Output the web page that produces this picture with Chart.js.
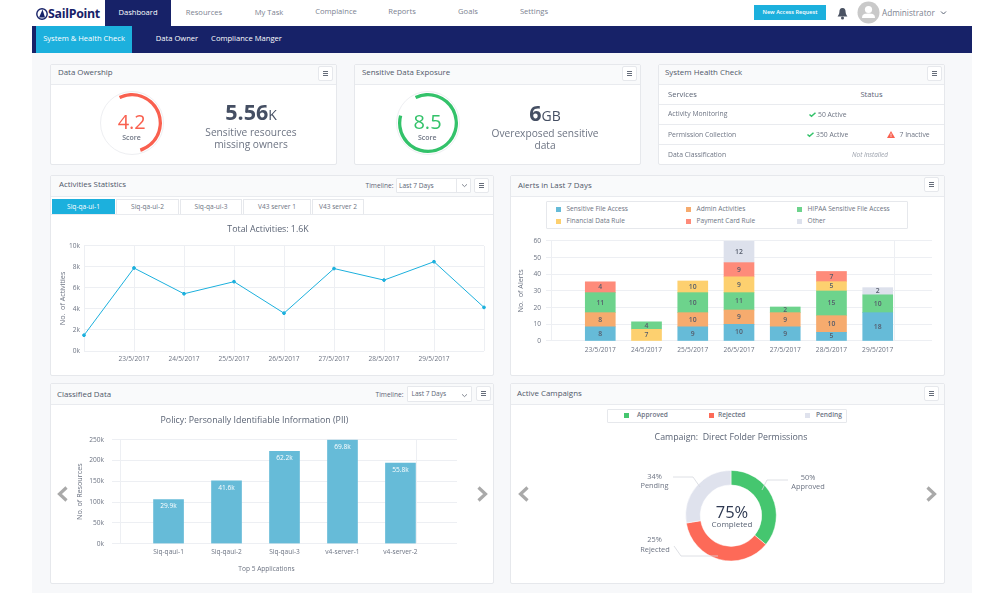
<!DOCTYPE html>
<html lang="en">
<head>
<meta charset="UTF-8">
<title>SailPoint Dashboard</title>
<script src="https://cdn.jsdelivr.net/npm/chart.js"></script>
<style>
  html, body { margin: 0; padding: 0; background: #fff; }
  body { width: 1000px; height: 593px; overflow: hidden; position: relative; font-family: "Open Sans", sans-serif; color: #5b6475; }
  .bg { position: absolute; left: 32px; top: 27px; width: 940px; height: 566px; background: #f7f8fa; }
  .sub { position: absolute; left: 32px; top: 26px; width: 940px; height: 27px; background: #172268; }
  .card { position: absolute; background: #fff; border: 1px solid #e6e8ec; border-radius: 2px; box-sizing: border-box; }
  .head { position: absolute; background: #f9fafb; border-bottom: 1px solid #e9ebef; left: 0; right: 0; top: 0; }
  .c, .l, .r { position: absolute; white-space: nowrap; transform: translateY(-50%); line-height: 1; }
  .c { transform: translate(-50%, -50%); text-align: center; }
  .r { transform: translate(-100%, -50%); }
  .title { font-size: 7.9px; color: #4f5869; }
  .nav { font-size: 7.6px; color: #7b8290; }
  .btn { position: absolute; background: #fff; border: 1px solid #e6e8ec; border-radius: 2px; box-sizing: border-box; }
  .btn::after { content: ""; position: absolute; left: 4px; right: 4px; top: 4px; height: 5px; border-top: 1px solid #666d7a; border-bottom: 1px solid #666d7a; box-sizing: border-box; }
  .btn::before { content: ""; position: absolute; left: 4px; right: 4px; top: 6px; height: 1px; background: #666d7a; }
  .box { position: absolute; background: #fff; border: 1px solid #e6e8ec; box-sizing: border-box; border-radius: 1px; }
  .tab { position: absolute; top: 199px; height: 15px; box-sizing: border-box; background: #fff; border: 1px solid #e6e8ec; border-bottom: 0; font-size: 6.6px; color: #6d7483; text-align: center; line-height: 14px; }
  .line { position: absolute; height: 1px; background: #e9ebef; }
  canvas { position: absolute; }
  svg { position: absolute; overflow: visible; }
  .sm { font-size: 6.8px; color: #6d7483; }
  .lg { font-size: 6.6px; color: #6d7483; }
  .sw { position: absolute; width: 5px; height: 5px; }
</style>
</head>
<body>
<div class="bg"></div>

<!-- top bar -->
<svg style="left:36px;top:8px" width="12" height="12" viewBox="0 0 12 12"><circle cx="6" cy="6" r="5.2" fill="none" stroke="#172268" stroke-width="1.4"/><path d="M6.5 1.5 L3 9.5 L9 9.5 Z" fill="#172268"/></svg>
<div class="l" style="left:48px;top:14px;font-size:12.4px;font-weight:700;color:#172268;letter-spacing:-.3px">SailPoint</div>
<div style="position:absolute;left:105px;top:0;width:66px;height:26px;background:#172268"></div>
<div class="c nav" style="left:138px;top:13px;color:#fff">Dashboard</div>
<div class="c nav" style="left:204px;top:13px">Resources</div>
<div class="c nav" style="left:269px;top:13px">My Task</div>
<div class="c nav" style="left:336px;top:11.5px">Complaince</div>
<div class="c nav" style="left:402px;top:11.5px">Reports</div>
<div class="c nav" style="left:468px;top:11.5px">Goals</div>
<div class="c nav" style="left:534px;top:11.5px">Settings</div>
<div style="position:absolute;left:754px;top:5px;width:72px;height:15px;background:#1cb0dd"></div>
<div class="c" style="left:790px;top:12.5px;font-size:5.6px;font-weight:600;color:#fff">New Access Request</div>
<svg style="left:837px;top:7px" width="11" height="13" viewBox="0 0 11 13"><path d="M5.5 1 C3 1 2.4 3 2.4 5 C2.4 7.5 1 8.5 .6 9.6 L10.4 9.6 C10 8.5 8.6 7.5 8.6 5 C8.6 3 8 1 5.5 1 Z" fill="#4a5262"/><circle cx="5.5" cy="11" r="1.5" fill="#4a5262"/></svg>
<svg style="left:857px;top:1px" width="23" height="23" viewBox="0 0 23 23"><circle cx="11.5" cy="11.5" r="11" fill="#c9c9c9"/><circle cx="11.5" cy="8.5" r="3.6" fill="#fff"/><path d="M5 17 C5 13 8 12.5 11.5 12.5 C15 12.5 18 13 18 17 Z" fill="#fff"/></svg>
<div class="l" style="left:882px;top:13px;font-size:8.2px;color:#7b8290">Administrator</div>
<svg style="left:941px;top:11px" width="5" height="4"><polyline points="0,.5 2.5,3 5,.5" fill="none" stroke="#5b6475" stroke-width="1"/></svg>

<!-- sub navigation -->
<div class="sub"></div>
<div style="position:absolute;left:36px;top:26px;width:96px;height:27px;background:#1cb0dd"></div>
<div class="c nav" style="left:84px;top:39px;color:#fff">System &amp; Health Check</div>
<div class="c nav" style="left:177px;top:39px;color:#fff">Data Owner</div>
<div class="c nav" style="left:246.5px;top:39px;color:#fff">Compliance Manger</div>

<!-- cards -->
<div class="card" style="left:50px;top:64px;width:287px;height:101px"><div class="head" style="height:19px"></div></div>
<div class="card" style="left:354px;top:64px;width:287px;height:101px"><div class="head" style="height:19px"></div></div>
<div class="card" style="left:658px;top:64px;width:287px;height:101px"><div class="head" style="height:19px"></div></div>
<div class="card" style="left:50px;top:175px;width:444px;height:201px"><div class="head" style="height:20px"></div></div>
<div class="card" style="left:510px;top:175px;width:435px;height:201px"><div class="head" style="height:20px"></div></div>
<div class="card" style="left:50px;top:383px;width:444px;height:201px"><div class="head" style="height:20px"></div></div>
<div class="card" style="left:510px;top:383px;width:435px;height:201px"><div class="head" style="height:20px"></div></div>

<div class="l title" style="left:58px;top:73px">Data Owership</div>
<div class="l title" style="left:362px;top:73px">Sensitive Data Exposure</div>
<div class="l title" style="left:665px;top:73px">System Health Check</div>
<div class="l title" style="left:59px;top:185px">Activities Statistics</div>
<div class="l title" style="left:518px;top:186px">Alerts in Last 7 Days</div>
<div class="l title" style="left:57px;top:395px">Classified Data</div>
<div class="l title" style="left:517px;top:394px">Active Campaigns</div>

<div class="btn" style="left:318px;top:66px;width:15px;height:15px"></div>
<div class="btn" style="left:622px;top:66px;width:15px;height:15px"></div>
<div class="btn" style="left:927px;top:66px;width:15px;height:15px"></div>
<div class="btn" style="left:474px;top:178px;width:15px;height:15px"></div>
<div class="btn" style="left:924px;top:177px;width:15px;height:15px"></div>
<div class="btn" style="left:476px;top:386px;width:15px;height:15px"></div>
<div class="btn" style="left:924px;top:386px;width:15px;height:15px"></div>

<!-- score cards -->
<div style="position:absolute;left:99.5px;top:90.5px;width:64px;height:64px;border-radius:50%;background:#fff;border:1.5px solid #eeeff2;box-sizing:border-box"></div>
<div style="position:absolute;left:395.5px;top:90.5px;width:64px;height:64px;border-radius:50%;background:#fff;border:1.5px solid #eeeff2;box-sizing:border-box"></div>
<canvas id="gaugeOwner" width="64" height="64" style="left:99.5px;top:90.5px"></canvas>
<canvas id="gaugeExposure" width="64" height="64" style="left:395.5px;top:90.5px"></canvas>
<div class="c" style="left:131.7px;top:121.5px;font-size:20px;color:#f9604f">4.2</div>
<div class="c" style="left:131.5px;top:137px;font-size:7px;font-weight:600;color:#6d7483">Score</div>
<div class="c" style="left:427.5px;top:121.5px;font-size:20px;color:#33c26a">8.5</div>
<div class="c" style="left:427.3px;top:136.5px;font-size:7px;font-weight:600;color:#6d7483">Score</div>
<div class="c" style="left:251px;top:112px;color:#454f63"><span style="font-size:21.5px;font-weight:700">5.56</span><span style="font-size:14px">K</span></div>
<div class="c" style="left:251px;top:132px;font-size:10.2px;color:#6d7483">Sensitive resources</div>
<div class="c" style="left:251px;top:143.5px;font-size:10.2px;color:#6d7483">missing owners</div>
<div class="c" style="left:545px;top:113px;color:#454f63"><span style="font-size:21.5px;font-weight:700">6</span><span style="font-size:14px">GB</span></div>
<div class="c" style="left:545px;top:132.5px;font-size:10.2px;color:#6d7483">Overexposed sensitive</div>
<div class="c" style="left:545px;top:144.5px;font-size:10.2px;color:#6d7483">data</div>

<!-- system health table -->
<div class="l" style="left:668px;top:95px;font-size:7.6px;color:#5b6475">Services</div>
<div class="c" style="left:871.5px;top:95px;font-size:7.6px;color:#5b6475">Status</div>
<div class="line" style="left:659px;top:104px;width:285px"></div>
<div class="line" style="left:659px;top:124px;width:285px"></div>
<div class="line" style="left:659px;top:144px;width:285px"></div>
<div class="l sm" style="left:668px;top:114px">Activity Monitoring</div>
<div class="l sm" style="left:668px;top:134.5px">Permission Collection</div>
<div class="l sm" style="left:668px;top:154.5px">Data Classification</div>
<svg style="left:809px;top:112px" width="7" height="5"><polyline points=".5,2.5 2.5,4.3 6.5,.7" fill="none" stroke="#33c26a" stroke-width="1.5"/></svg>
<div class="l sm" style="left:818px;top:115px">50 Active</div>
<svg style="left:806.5px;top:132px" width="7" height="5"><polyline points=".5,2.5 2.5,4.3 6.5,.7" fill="none" stroke="#33c26a" stroke-width="1.5"/></svg>
<div class="l sm" style="left:816px;top:135px">350 Active</div>
<svg style="left:887px;top:130.5px" width="8" height="7"><path d="M4 0 L8 7 L0 7 Z" fill="#f9604f"/><rect x="3.6" y="2.5" width=".8" height="2.2" fill="#fff"/><rect x="3.6" y="5.2" width=".8" height=".8" fill="#fff"/></svg>
<div class="l sm" style="left:899.5px;top:135px">7 Inactive</div>
<div class="c" style="left:870px;top:155px;font-size:6.4px;font-style:italic;color:#9aa0ab">Not Installed</div>

<!-- activities controls -->
<div class="r" style="left:393.5px;top:185.5px;font-size:6.6px;color:#5b6475">Timeline:</div>
<div class="box" style="left:396px;top:178px;width:75px;height:15px"></div>
<div style="position:absolute;left:456px;top:178px;width:1px;height:15px;background:#e6e8ec"></div>
<div class="l" style="left:399px;top:185.5px;font-size:6.6px;color:#5b6475">Last 7 Days</div>
<svg style="left:461.5px;top:184px" width="5" height="3"><polyline points="0,.3 2.5,2.6 5,.3" fill="none" stroke="#666d7a" stroke-width=".8"/></svg>
<div class="line" style="left:51px;top:214px;width:442px"></div>
<div id="tabs"></div>

<!-- classified controls -->
<div class="r" style="left:403.5px;top:394.5px;font-size:6.6px;color:#5b6475">Timeline:</div>
<div class="box" style="left:407px;top:386px;width:65px;height:16px"></div>
<div class="l" style="left:411.5px;top:394px;font-size:6.6px;color:#5b6475">Last 7 Days</div>
<svg style="left:461.5px;top:393.5px" width="5" height="3"><polyline points="0,.3 2.5,2.6 5,.3" fill="none" stroke="#666d7a" stroke-width=".8"/></svg>

<!-- charts -->
<canvas id="activityChart" width="440" height="156" style="left:52px;top:216px"></canvas>
<canvas id="alertsChart" width="431" height="140" style="left:512px;top:232px"></canvas>
<canvas id="classifiedChart" width="440" height="174" style="left:52px;top:408px"></canvas>
<canvas id="campaignChart" width="431" height="160" style="left:512px;top:425px"></canvas>

<!-- alerts legend -->
<div class="box" style="left:546px;top:201px;width:362px;height:28px"></div>
<div id="alertsLegend"></div>

<!-- classified extras -->
<div class="c lg" style="left:266.5px;top:568.5px">Top 5 Applications</div>
<svg style="left:57px;top:486px" width="11" height="16"><polyline points="9.5,1.5 2.5,8 9.5,14.5" fill="none" stroke="#a9a9a9" stroke-width="3.2"/></svg>
<svg style="left:477px;top:486px" width="11" height="16"><polyline points="1.5,1.5 8.5,8 1.5,14.5" fill="none" stroke="#a9a9a9" stroke-width="3.2"/></svg>

<!-- campaign extras -->
<div class="box" style="left:607px;top:408.5px;width:240px;height:14px"></div>
<div id="campaignLegend"></div>
<svg style="left:518px;top:486px" width="11" height="16"><polyline points="9.5,1.5 2.5,8 9.5,14.5" fill="none" stroke="#a9a9a9" stroke-width="3.2"/></svg>
<svg style="left:926px;top:486px" width="11" height="16"><polyline points="1.5,1.5 8.5,8 1.5,14.5" fill="none" stroke="#a9a9a9" stroke-width="3.2"/></svg>
<svg style="left:0;top:0" width="1000" height="593">
  <polyline points="762,490 767,480 788,480" fill="none" stroke="#d5d8de" stroke-width=".8"/>
  <polyline points="700,487 693,477 673,477" fill="none" stroke="#d5d8de" stroke-width=".8"/>
  <polyline points="718,556 681,556 674,546" fill="none" stroke="#d5d8de" stroke-width=".8"/>
</svg>
<div class="c lg" style="left:808px;top:477.5px;font-size:7.4px">50%</div>
<div class="c lg" style="left:808px;top:487px;font-size:7.4px">Approved</div>
<div class="c lg" style="left:654.5px;top:476.5px;font-size:7.4px">34%</div>
<div class="c lg" style="left:654.5px;top:485.5px;font-size:7.4px">Pending</div>
<div class="c lg" style="left:654.5px;top:540px;font-size:7.4px">25%</div>
<div class="c lg" style="left:655px;top:549.5px;font-size:7.4px">Rejected</div>
<div class="c" style="left:732px;top:512px;font-size:16.5px;color:#2f3a52">75%</div>
<div class="c" style="left:732px;top:524px;font-size:8px;color:#5b6475">Completed</div>

<script>
  // Onglets
  const tabNames = ['Siq-qa-ui-1', 'Siq-qa-ui-2', 'Siq-qa-ui-3', 'V43 server 1', 'V43 server 2'];

  // Activities Statistics
  const activityLabels = ['', '23/5/2017', '24/5/2017', '25/5/2017', '26/5/2017', '27/5/2017', '28/5/2017', '29/5/2017', ''];
  const activityValues = [1500, 7900, 5450, 6600, 3600, 7850, 6750, 8500, 4150];

  const alertDays = ['23/5/2017', '24/5/2017', '25/5/2017', '26/5/2017', '27/5/2017', '28/5/2017', '29/5/2017'];
  const alertSeries = ['Sensitive File Access', 'Admin Activities', 'HIPAA Sensitive File Access', 'Financial Data Rule', 'Payment Card Rule', 'Other'];
  const alertColors = ['#66bbd8', '#f6ab6e', '#6dd38c', '#fdd06f', '#fe8b7a', '#dde1ec'];
  const sensitiveHeights = [8.5, null, 8.5, 10, 8.5, 5.2, 17];
  const adminHeights = [8.5, null, 8.5, 8.6, 8.5, 10, null];
  const hipaaHeights = [12, 4.5, 12, 10.4, 3.4, 14.8, 10.7];
  const financialHeights = [null, null, 7, 9.5, null, 5.6, null];
  const paymentHeights = [6.5, null, null, 8.5, null, 6.1, null];
  const otherHeights = [null, null, null, 13, null, null, 4.3];
  const sensitivePrinted = [8, null, 9, 10, 9, 5, 18];
  const adminPrinted = [8, null, 10, 9, 9, 10, null];
  const hipaaPrinted = [11, 4, 10, 11, 2, 15, 10];
  const financialPrinted = [null, null, 10, 9, null, 5, null];
  const paymentPrinted = [4, null, null, 9, null, 7, null];
  const otherPrinted = [null, null, null, 12, null, null, 2];
  // Le 24/5 le jaune est sous le vert
  const financialLowHeights = [null, 7, null, null, null, null, null];
  const financialLowPrinted = [null, 7, null, null, null, null, null];

  // Classified Data
  const classifiedApps = ['Siq-qaui-1', 'Siq-qaui-2', 'Siq-qaui-3', 'v4-server-1', 'v4-server-2'];
  const classifiedValues = [106000, 151000, 222000, 250000, 194000];
  const classifiedPrinted = ['29.9k', '41.6k', '62.2k', '69.8k', '55.8k'];

  // Active Campaigns
  const campaignLabels = ['Approved', 'Rejected', 'Pending'];
  const campaignColors = ['#45c66f', '#fd6a58', '#dfe2ed'];
  const campaignValues = [36, 36.4, 27.6];

  // Jauges
  const ownerGauge = [52.5, 47.5];
  const exposureGauge = [86.4, 13.6];

  const gridColor = '#edeff3';
  const textColor = '#6d7483';
  const tickFont = { size: 6.6 };
  const axisTitleFont = { size: 7.2 };
  const chartTitleFont = { size: 8.8, weight: 'normal' };

  Chart.defaults.animation = false;
  Chart.defaults.font.family = '"Open Sans", sans-serif';
  Chart.defaults.color = textColor;
  Chart.defaults.plugins.legend.display = false;
  Chart.defaults.plugins.tooltip.enabled = false;

  // Onglets et legendes HTML
  const tabBoxes = [[52, 63], [116, 63], [180, 62], [243, 68], [312, 52]];
  document.getElementById('tabs').innerHTML = tabNames.map((name, i) => {
    const active = i === 0 ? 'background:#1cb0dd;color:#fff;border-color:#1cb0dd;' : '';
    return `<div class="tab" style="left:${tabBoxes[i][0]}px;width:${tabBoxes[i][1]}px;${active}">${name}</div>`;
  }).join('');

  const legendSpots = [[556, 209], [686, 209], [797, 209], [556, 221], [686, 221], [797, 221]];
  document.getElementById('alertsLegend').innerHTML = alertSeries.map((name, i) => {
    const [x, y] = legendSpots[i];
    return `<div class="sw" style="left:${x}px;top:${y - 2.5}px;background:${alertColors[i]}"></div>` +
      `<div class="l lg" style="left:${x + 10.5}px;top:${y}px">${name}</div>`;
  }).join('');

  const campaignSpots = [[624, 637], [709, 718], [805, 816]];
  document.getElementById('campaignLegend').innerHTML = campaignLabels.map((name, i) => {
    return `<div class="sw" style="left:${campaignSpots[i][0]}px;top:413px;background:${campaignColors[i]}"></div>` +
      `<div class="l lg" style="left:${campaignSpots[i][1]}px;top:415px;font-weight:600">${name}</div>`;
  }).join('');

  // Chiffres sur les barres
  const barLabels = {
    id: 'barLabels',
    afterDatasetsDraw(chart, args, opts) {
      const ctx = chart.ctx;
      ctx.save();
      ctx.textAlign = 'center';
      ctx.textBaseline = 'middle';
      ctx.font = `${opts.weight} ${opts.size}px "Open Sans", sans-serif`;
      ctx.fillStyle = opts.color;
      chart.data.datasets.forEach((ds, d) => {
        chart.getDatasetMeta(d).data.forEach((bar, i) => {
          if (ds.printed[i] === null) return;
          const y = opts.inside ? bar.y + opts.inside : (bar.y + bar.base) / 2;
          ctx.fillText(ds.printed[i], bar.x, y);
        });
      });
      ctx.restore();
    }
  };

  // Axe x numerique : permet une marge de chaque cote des barres
  function barAxis(labels, margin, padding) {
    const min = -margin;
    const max = labels.length - 1 + margin;
    return {
      type: 'linear', min, max,
      afterBuildTicks: scale => {
        scale.ticks = [min, ...labels.map((_, i) => i), max].map(value => ({ value }));
      },
      afterFit: scale => { scale.height = padding.height; },
      grid: {
        drawTicks: false,
        color: c => (c.tick && (c.tick.value === min || c.tick.value === max) ? gridColor : 'transparent')
      },
      border: { display: false },
      ticks: {
        autoSkip: false, maxRotation: 0, padding: padding.tick, font: tickFont,
        callback: v => (labels[v] === undefined ? '' : labels[v])
      }
    };
  }

  function valueAxis(opts) {
    return {
      min: 0, max: opts.max,
      afterFit: scale => { scale.width = opts.width; },
      grid: { color: gridColor, drawTicks: false },
      border: { display: false },
      title: { display: true, text: opts.title, font: axisTitleFont, padding: { top: opts.titlePad, bottom: 0 } },
      ticks: { stepSize: opts.step, padding: opts.tickPad, font: tickFont, callback: opts.format }
    };
  }

  // Activities Statistics
  new Chart(document.getElementById('activityChart'), {
    type: 'line',
    data: {
      labels: activityLabels,
      datasets: [{
        data: activityValues,
        borderColor: '#1cb0dd',
        backgroundColor: '#1cb0dd',
        borderWidth: 1,
        pointRadius: 1.4,
        tension: 0,
        clip: false
      }]
    },
    options: {
      responsive: false,
      layout: { autoPadding: false, padding: { right: 8 } },
      plugins: {
        title: { display: true, text: 'Total Activities: 1.6K', color: '#5b6475', font: chartTitleFont, padding: { top: 8.7, bottom: 10.7 } }
      },
      scales: {
        x: {
          afterFit: scale => { scale.height = 21; },
          grid: { color: gridColor, drawTicks: false },
          border: { display: false },
          ticks: { autoSkip: false, maxRotation: 0, padding: 4, font: tickFont }
        },
        y: valueAxis({ max: 10000, step: 2000, width: 32, title: 'No.  of Activities', titlePad: 6.7, tickPad: 4, format: v => v / 1000 + 'k' })
      }
    }
  });

  // Alerts in Last 7 Days : ordre d'empilement du bas vers le haut
  const alertStack = [
    { serie: 3, heights: financialLowHeights, printed: financialLowPrinted },
    { serie: 0, heights: sensitiveHeights, printed: sensitivePrinted },
    { serie: 1, heights: adminHeights, printed: adminPrinted },
    { serie: 2, heights: hipaaHeights, printed: hipaaPrinted },
    { serie: 3, heights: financialHeights, printed: financialPrinted },
    { serie: 4, heights: paymentHeights, printed: paymentPrinted },
    { serie: 5, heights: otherHeights, printed: otherPrinted }
  ];
  new Chart(document.getElementById('alertsChart'), {
    type: 'bar',
    data: {
      datasets: alertStack.map(s => ({
        label: alertSeries[s.serie],
        data: s.heights.map((y, i) => ({ x: i, y })),
        printed: s.printed,
        backgroundColor: alertColors[s.serie],
        barThickness: 30
      }))
    },
    options: {
      responsive: false,
      layout: { autoPadding: false, padding: { top: 5, right: 11 } },
      plugins: { barLabels: { size: 6.8, weight: 600, color: '#555c6b' } },
      scales: {
        x: { ...barAxis(alertDays, 0.71, { height: 31, tick: 5 }), stacked: true },
        y: { ...valueAxis({ max: 60, step: 10, width: 34, title: 'No.  of Alerts', titlePad: 4.7, tickPad: 5 }), stacked: true }
      }
    },
    plugins: [barLabels]
  });

  // Classified Data
  new Chart(document.getElementById('classifiedChart'), {
    type: 'bar',
    data: {
      datasets: [{
        data: classifiedValues.map((y, i) => ({ x: i, y })),
        printed: classifiedPrinted,
        backgroundColor: '#66bbd8',
        barThickness: 30
      }]
    },
    options: {
      responsive: false,
      layout: { autoPadding: false, padding: { right: 35 } },
      plugins: {
        title: { display: true, text: 'Policy: Personally Identifiable Information (PII)', color: '#5b6475', font: chartTitleFont, padding: { top: 7.4, bottom: 13.7 } },
        barLabels: { size: 6.6, weight: 400, color: '#fff', inside: 7 }
      },
      scales: {
        x: barAxis(classifiedApps, 0.55, { height: 38.3, tick: 4 }),
        y: valueAxis({ max: 250000, step: 50000, width: 60, title: 'No. of Resources', titlePad: 23.7, tickPad: 8, format: v => v / 1000 + 'k' })
      }
    },
    plugins: [barLabels]
  });

  // Active Campaigns
  new Chart(document.getElementById('campaignChart'), {
    type: 'doughnut',
    data: {
      labels: campaignLabels,
      datasets: [{ data: campaignValues, backgroundColor: campaignColors, borderWidth: 0.5, borderColor: '#fff' }]
    },
    options: {
      responsive: false,
      radius: 45.3,
      cutout: '67.8%',
      layout: { autoPadding: false, padding: { left: 7, bottom: 0.9 } },
      plugins: {
        title: { display: true, text: 'Campaign:  Direct Folder Permissions', color: '#5b6475', font: chartTitleFont, padding: { top: 7.7, bottom: 4 } }
      }
    }
  });

  // Jauges
  function gauge(id, values, color) {
    new Chart(document.getElementById(id), {
      type: 'doughnut',
      data: { datasets: [{ data: values, backgroundColor: [color, 'transparent'], borderWidth: 0 }] },
      options: { responsive: false, rotation: -26, radius: 30, cutout: '89%' }
    });
  }
  gauge('gaugeOwner', ownerGauge, '#f9604f');
  gauge('gaugeExposure', exposureGauge, '#33c26a');
</script>
</body>
</html>
